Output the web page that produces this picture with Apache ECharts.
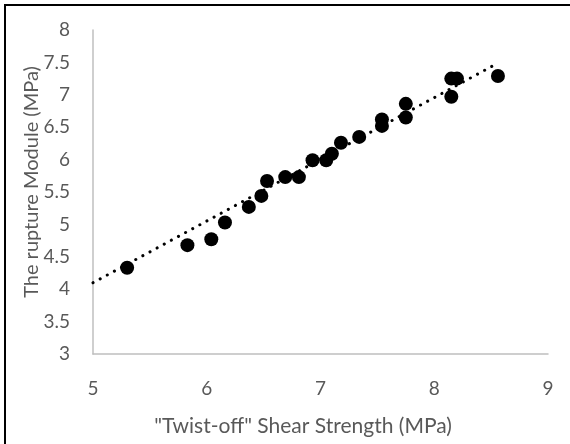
<!DOCTYPE html>
<html>
<head>
<meta charset="utf-8">
<script src="https://cdn.jsdelivr.net/npm/echarts@6/dist/echarts.min.js"></script>
<style>
  html, body { margin: 0; padding: 0; background: #fff; }
  #chart { width: 570px; height: 444px; }
</style>
</head>
<body>
<div id="chart"></div>
<script>
// Twist-off shear strength (MPa) vs rupture modulus (MPa)
const shearStrength = [5.30, 5.83, 6.04, 6.16, 6.37, 6.48, 6.53, 6.69, 6.81, 6.93, 7.05, 7.10, 7.18, 7.34, 7.54, 7.54, 7.75, 7.75, 8.15, 8.20, 8.15, 8.56];
const ruptureModulus = [4.33, 4.68, 4.77, 5.03, 5.27, 5.44, 5.67, 5.73, 5.73, 5.99, 5.99, 6.09, 6.26, 6.35, 6.62, 6.52, 6.86, 6.65, 7.25, 7.25, 6.97, 7.29];

// Linear trendline end points
const trendX = [5.0, 8.56];
const trendY = [4.10, 7.49];

const xTicks = { min: 5, max: 9, step: 1 };
const yTicks = { min: 3, max: 8, step: 0.5 };

const xTitle = '"Twist-off" Shear Strength (MPa)';
const yTitle = 'The rupture Module (MPa)';

const FONT = 'Lato, "Open Sans", sans-serif';
const GREY_TEXT = '#595959';
const AXIS_GREY = '#bfbfbf';

const chart = echarts.init(document.getElementById('chart'), null, { renderer: 'canvas' });

chart.setOption({
  animation: false,
  backgroundColor: '#ffffff',
  grid: { left: 93, right: 22, top: 30, bottom: 90, containLabel: false },
  xAxis: {
    type: 'value',
    min: xTicks.min, max: xTicks.max, interval: xTicks.step,
    axisLine: { show: true, lineStyle: { color: AXIS_GREY, width: 1.5 } },
    axisTick: { show: false },
    splitLine: { show: false },
    axisLabel: { color: GREY_TEXT, fontFamily: FONT, fontSize: 19, margin: 25 }
  },
  yAxis: {
    type: 'value',
    min: yTicks.min, max: yTicks.max, interval: yTicks.step,
    axisLine: { show: true, lineStyle: { color: AXIS_GREY, width: 1.5 } },
    axisTick: { show: false },
    splitLine: { show: false },
    axisLabel: { color: GREY_TEXT, fontFamily: FONT, fontSize: 19, margin: 23 }
  },
  series: [
    {
      name: 'data',
      type: 'scatter',
      data: shearStrength.map((x, i) => [x, ruptureModulus[i]]),
      symbol: 'circle',
      symbolSize: 14,
      itemStyle: { color: '#000000', opacity: 1 },
      emphasis: { disabled: true },
      z: 2
    },
    {
      name: 'trend',
      type: 'line',
      data: trendX.map((x, i) => [x, trendY[i]]),
      symbol: 'none',
      lineStyle: { color: '#000000', width: 3, type: [0.1, 8], cap: 'round' },
      z: 3
    }
  ],
  graphic: [
    {
      type: 'rect',
      shape: { x: 5, y: 5, width: 600, height: 500 },
      style: { fill: 'none', stroke: '#000000', lineWidth: 2 },
      silent: true
    },
    {
      type: 'text',
      x: 303, y: 426,
      style: {
        text: xTitle, fill: GREY_TEXT, font: '21px ' + FONT,
        textAlign: 'center', textVerticalAlign: 'middle'
      }
    },
    {
      type: 'text',
      x: 32, y: 182,
      rotation: Math.PI / 2,
      style: {
        text: yTitle, fill: GREY_TEXT, font: '20px ' + FONT,
        textAlign: 'center', textVerticalAlign: 'middle'
      }
    }
  ]
});
</script>
</body>
</html>
